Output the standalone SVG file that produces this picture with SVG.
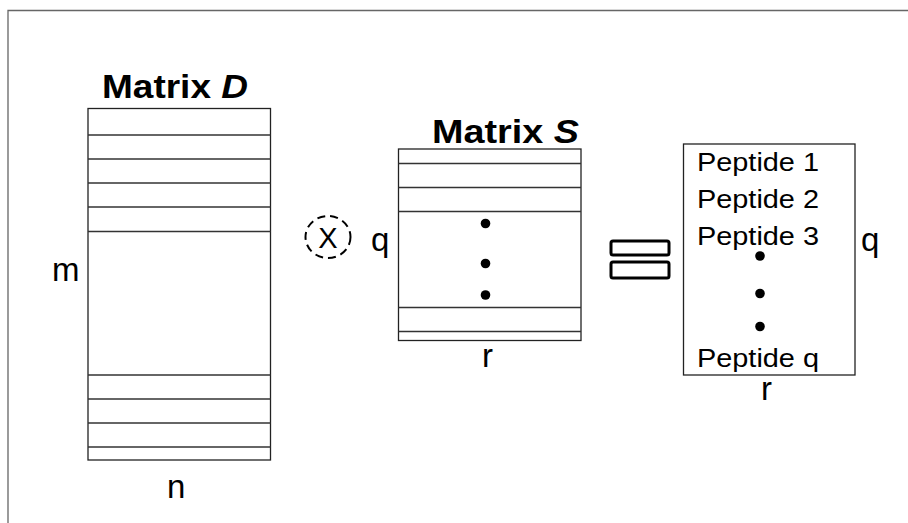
<svg xmlns="http://www.w3.org/2000/svg" width="908" height="523" viewBox="0 0 908 523">
<style>
.t{font-family:"Liberation Sans",Arial,sans-serif;fill:#000}
.ti{font-weight:bold;font-size:33px}
.lb{font-size:33px}
.pp{font-size:25px}
.box{fill:#fff;stroke:#222;stroke-width:1.3}
.row{stroke:#333;stroke-width:1.3}
.dot{fill:#000}
</style>
<rect width="908" height="523" fill="#fff"/>
<path d="M8 523 V10.5 H908" fill="none" stroke="#666" stroke-width="1.3"/>
<g id="matrixD">
<text class="t ti" x="102" y="98" textLength="146" lengthAdjust="spacingAndGlyphs">Matrix <tspan font-style="italic">D</tspan></text>
<rect class="box" x="88" y="108.5" width="182.5" height="351.5"/>
<g class="row">
<line x1="88" y1="135" x2="270.5" y2="135"/>
<line x1="88" y1="159" x2="270.5" y2="159"/>
<line x1="88" y1="183" x2="270.5" y2="183"/>
<line x1="88" y1="207" x2="270.5" y2="207"/>
<line x1="88" y1="231.5" x2="270.5" y2="231.5"/>
<line x1="88" y1="375" x2="270.5" y2="375"/>
<line x1="88" y1="399" x2="270.5" y2="399"/>
<line x1="88" y1="423" x2="270.5" y2="423"/>
<line x1="88" y1="447" x2="270.5" y2="447"/>
</g>
<text class="t lb" x="52" y="281">m</text>
<text class="t lb" x="167" y="498">n</text>
</g>
<g id="times">
<ellipse cx="328" cy="237" rx="22.5" ry="21" fill="none" stroke="#000" stroke-width="2" stroke-dasharray="8,5"/>
<text class="t" x="328" y="248" font-size="29" text-anchor="middle">X</text>
</g>
<g id="matrixS">
<text class="t ti" x="432" y="143" textLength="147" lengthAdjust="spacingAndGlyphs">Matrix <tspan font-style="italic">S</tspan></text>
<rect class="box" x="398.5" y="149" width="182.5" height="191.5"/>
<g class="row">
<line x1="398.5" y1="163.5" x2="581" y2="163.5"/>
<line x1="398.5" y1="187.5" x2="581" y2="187.5"/>
<line x1="398.5" y1="211.5" x2="581" y2="211.5"/>
<line x1="398.5" y1="307.5" x2="581" y2="307.5"/>
<line x1="398.5" y1="331.5" x2="581" y2="331.5"/>
</g>
<circle class="dot" cx="485.5" cy="223.5" r="4.8"/>
<circle class="dot" cx="485.5" cy="263.5" r="4.8"/>
<circle class="dot" cx="485.5" cy="295" r="4.8"/>
<text class="t lb" x="371" y="251">q</text>
<text class="t lb" x="482" y="367">r</text>
</g>
<g id="equals">
<rect x="611" y="241" width="58" height="14" rx="2" fill="none" stroke="#000" stroke-width="3"/>
<rect x="611" y="262" width="58" height="16" rx="2" fill="none" stroke="#000" stroke-width="3"/>
</g>
<g id="result">
<rect class="box" x="683.5" y="144" width="171.5" height="231"/>
<text class="t pp" x="697" y="171" textLength="122" lengthAdjust="spacingAndGlyphs">Peptide 1</text>
<text class="t pp" x="697" y="208" textLength="122" lengthAdjust="spacingAndGlyphs">Peptide 2</text>
<text class="t pp" x="697" y="245" textLength="122" lengthAdjust="spacingAndGlyphs">Peptide 3</text>
<text class="t pp" x="697" y="367" textLength="122" lengthAdjust="spacingAndGlyphs">Peptide q</text>
<circle class="dot" cx="760" cy="256" r="4.8"/>
<circle class="dot" cx="760" cy="293.5" r="4.8"/>
<circle class="dot" cx="760" cy="326.5" r="4.8"/>
<text class="t lb" x="861" y="251">q</text>
<text class="t lb" x="761" y="400">r</text>
</g>
</svg>
